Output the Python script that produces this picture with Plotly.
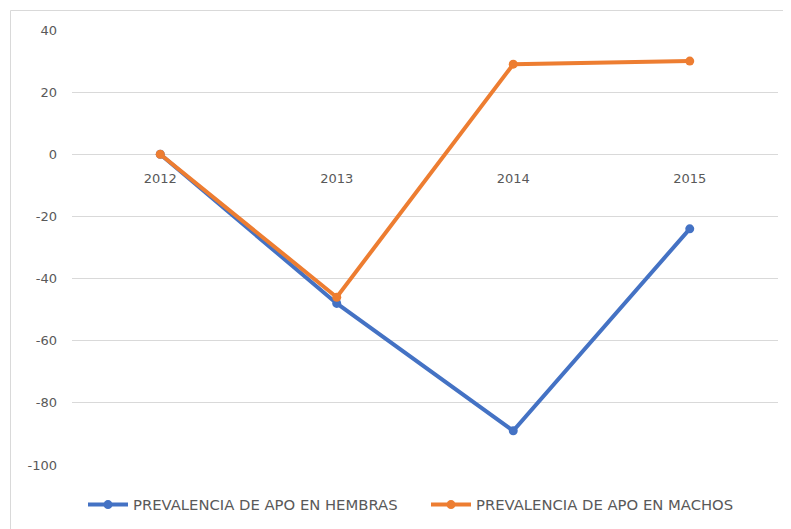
import plotly.graph_objects as go

years = ["2012", "2013", "2014", "2015"]
hembras = [0, -48, -89, -24]
machos = [0, -46, 29, 30]
y_ticks = [40, 20, 0, -20, -40, -60, -80, -100]
y_tick_text = ["40", "20", "0", "-20", "-40", "-60", "-80", "-100"]

name_h = "PREVALENCIA DE APO EN HEMBRAS"
name_m = "PREVALENCIA DE APO EN MACHOS"

blue = "#4472C4"
orange = "#ED7D31"
grid = "#D9D9D9"
txt = "#595959"
font_family = "DejaVu Sans, Liberation Sans, Arial, sans-serif"

fig = go.Figure()
fig.add_trace(go.Scatter(x=years, y=hembras, name=name_h, mode="lines+markers",
                         line=dict(color=blue, width=4), marker=dict(size=9, color=blue)))
fig.add_trace(go.Scatter(x=years, y=machos, name=name_m, mode="lines+markers",
                         line=dict(color=orange, width=4), marker=dict(size=9, color=orange)))

# page body has an 8px margin; figure coordinates are screen minus 8
OFF = 8
W, H = 791, 529
L, R, T, B = 64, 21, 22, 72
ph = H - T - B
pw = W - L - R

def sx(px):
    return (px - OFF - L) / pw

def sy(py):
    return (H - B - (py - OFF)) / ph

# chart frame (Excel-style, partially cropped)
fig.add_shape(type="line", xref="paper", yref="paper",
              x0=sx(10.5), x1=sx(10.5), y0=sy(10.5), y1=sy(560),
              line=dict(color="#D9D9D9", width=1))
fig.add_shape(type="line", xref="paper", yref="paper",
              x0=sx(10.5), x1=sx(820), y0=sy(10.5), y1=sy(10.5),
              line=dict(color="#D9D9D9", width=1))

fig.update_layout(
    width=W, height=H,
    margin=dict(l=L, r=R, t=T, b=B),
    paper_bgcolor="white", plot_bgcolor="white",
    font=dict(family=font_family, size=13, color=txt),
    showlegend=True,
    legend=dict(orientation="h", x=sx(426), xanchor="center",
                y=sy(505), yanchor="middle",
                font=dict(size=14.8, color=txt), itemwidth=40,
                entrywidth=288, entrywidthmode="pixels",
                bgcolor="rgba(0,0,0,0)"),
    xaxis=dict(type="category", range=[-0.5, 3.5], showgrid=False, zeroline=False,
               showline=False, anchor="free", position=100 / 140,
               ticks="outside", ticklen=12, tickcolor="rgba(0,0,0,0)",
               tickfont=dict(size=13, color=txt)),
    yaxis=dict(range=[-100, 40], tickvals=y_ticks, ticktext=y_tick_text,
               showgrid=True, gridcolor=grid, gridwidth=1, zeroline=False,
               showline=False, ticklabelstandoff=14,
               tickfont=dict(size=13, color=txt)),
)

fig.write_html("out.html")
